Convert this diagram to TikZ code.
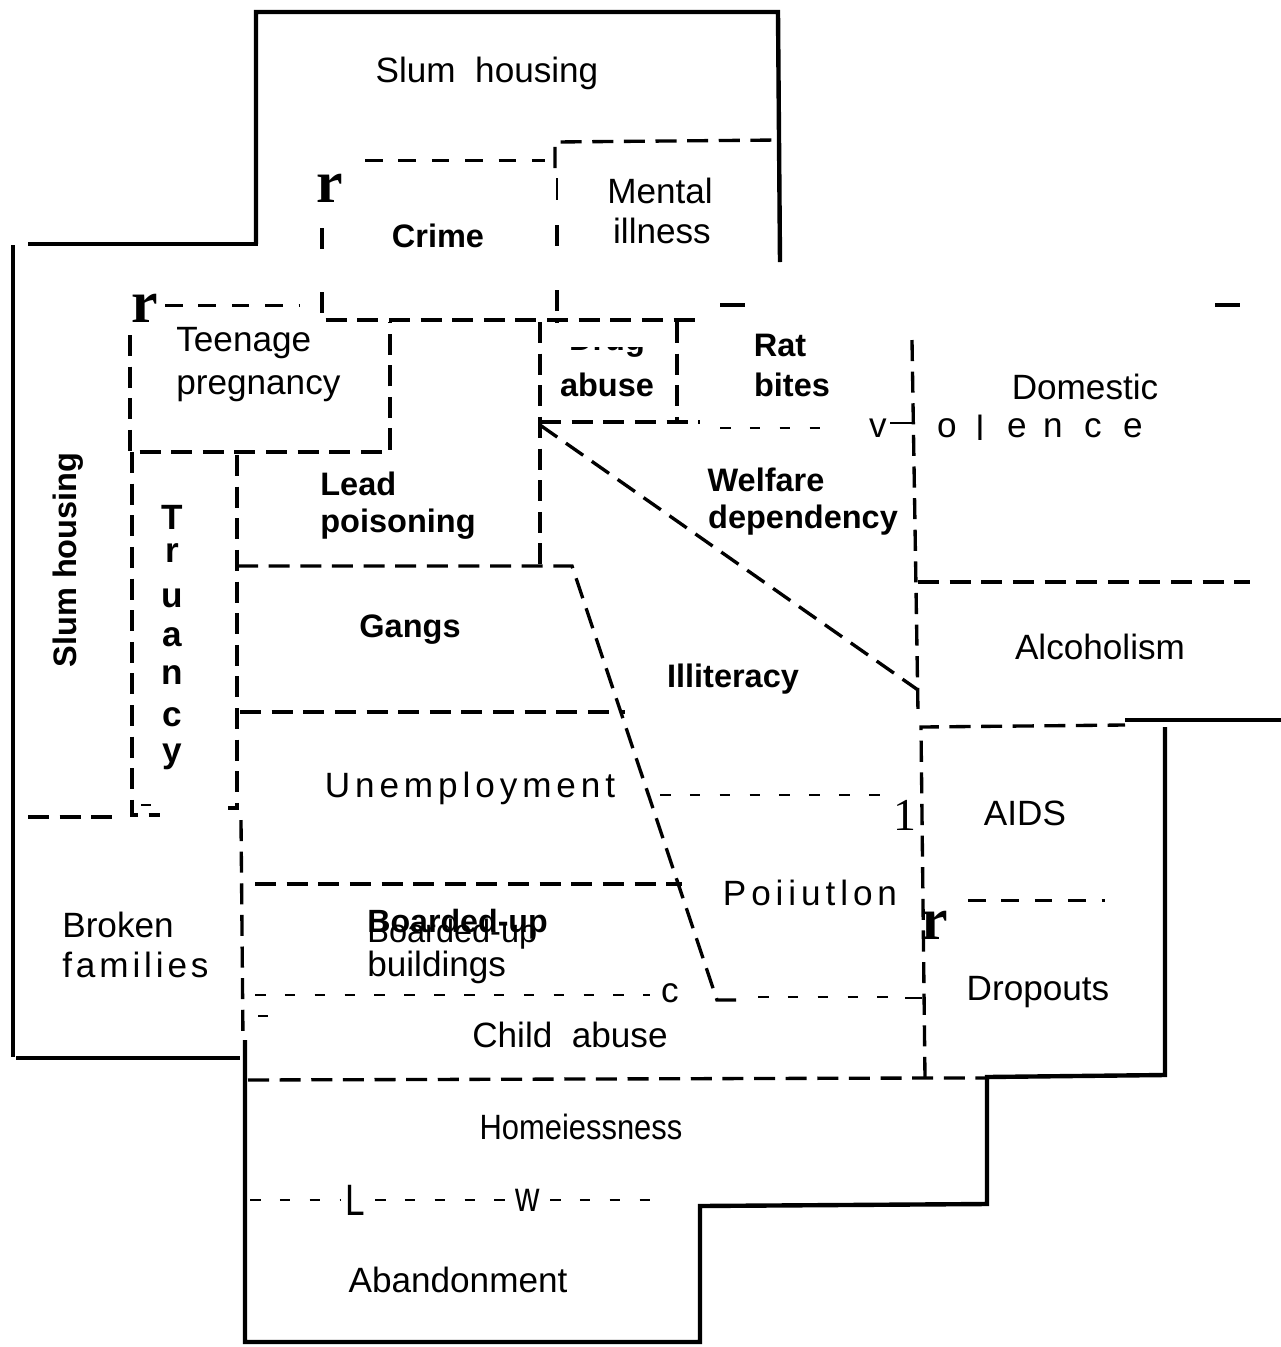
\documentclass[tikz,border=0pt]{standalone}
\usepackage{fontspec}
\setmainfont{Liberation Sans}
\newfontfamily\serifr{Liberation Serif}
\begin{document}
\begin{tikzpicture}[x=0.02cm,y=-0.02cm]
\tikzset{
 solidln/.style={line width=2.5pt, line join=miter},
 heavydash/.style={line width=1.9pt, dash pattern=on 12pt off 6pt},
 meddash/.style={line width=1.7pt, dash pattern=on 10pt off 9pt},
 thindash/.style={line width=1.4pt, dash pattern=on 6pt off 11pt},
 tick/.style={line width=1.5pt},
 reg/.style={inner sep=0pt, font=\fontsize{20}{24}\selectfont},
 bld/.style={inner sep=0pt, font=\fontsize{18.5}{22}\selectfont\bfseries},
 glyphr/.style={inner sep=0pt, font=\fontsize{34}{36}\selectfont\serifr\bfseries},
}
\useasboundingbox (0,0) rectangle (1281,1347);
% solid outline
\draw[solidln] (256,244) -- (256,12) -- (778,12) -- (780,262);
\draw[solidln] (28,244) -- (258,244);
\draw[solidln] (13,245) -- (13,1057);
\draw[solidln] (16,1058) -- (240,1058);
\draw[solidln] (245,1040) -- (245,1342) -- (700,1342) -- (700,1206) -- (987,1204) -- (987,1077) -- (1165,1075) -- (1165,727);
\draw[solidln] (1125,720) -- (1281,720);
% crime / mental illness
\draw[meddash] (365,160) -- (545,160);
\draw[heavydash] (322,228) -- (322,252);
\draw[heavydash] (322,292) -- (322,320) -- (700,320);
\draw[tick] (557,178) -- (557,200);
\draw[heavydash] (557,225) -- (557,252);
\draw[heavydash] (557,290) -- (557,322);
\draw[heavydash] (555,168) -- (555,142) -- (778,140);
\draw[line width=2pt] (720,305) -- (745,305);
\draw[line width=2pt] (1215,305) -- (1240,305);
% teenage pregnancy, truancy
\draw[meddash] (165,305) -- (300,305);
\draw[heavydash] (130,335) -- (130,452) -- (390,452) -- (390,322);
\draw[heavydash] (132,452) -- (132,815) -- (160,815);
\draw[tick] (141,805) -- (151,805);
\draw[heavydash] (237,455) -- (237,808) -- (228,808);
\draw[heavydash] (28,817) -- (120,817);
% drug abuse, rat bites, welfare
\draw[heavydash] (540,322) -- (540,565);
\draw[heavydash] (677,322) -- (677,422);
\draw[heavydash] (540,422) -- (700,422);
\draw[thindash] (720,428) -- (830,428);
\draw[tick] (890,423) -- (912,423);
\draw[heavydash] (912,340) -- (918,712);
\draw[heavydash] (540,425) -- (918,690);
\draw[heavydash] (918,582) -- (1250,582);
\draw[heavydash] (925,1078) -- (921,727) -- (1125,725);
\draw[meddash] (968,900) -- (1105,900);
\draw[thindash] (660,795) -- (895,795);
% gangs, unemployment, boarded-up, child abuse
\draw[heavydash] (237,566) -- (572,566) -- (717,1000) -- (745,1000);
\draw[thindash] (758,997) -- (905,997);
\draw[tick] (905,998) -- (922,998);
\draw[heavydash] (240,712) -- (625,712);
\draw[heavydash] (255,884) -- (682,884);
\draw[thindash] (255,995) -- (650,995);
\draw[heavydash] (241,820) -- (243,1040);
\draw[tick] (258,1016) -- (268,1016);
\draw[heavydash] (248,1080) -- (925,1078) -- (987,1078);
\draw[thindash] (250,1200) -- (340,1200);
\draw[thindash] (375,1200) -- (505,1200);
\draw[thindash] (550,1200) -- (668,1200);
% texts
\node[reg] (slum) at (487,73) {Slum\ \ housing};
\node[reg] (mental) at (660,191) {Mental};
\node[reg] (illness) at (662,231) {illness};
\node[bld] (crime) at (438,236) {Crime};
\node[glyphr] (r1) at (330,188) {r};
\node[glyphr] (r2) at (145,308) {r};
\node[glyphr] (r3) at (935,925) {r};
\node[reg,anchor=west] (teen) at (176,343) {Teenage};
\node[reg,anchor=west] (preg) at (176,389) {pregnancy};
\begin{scope}
\clip (560,347) rectangle (660,365);
\node[bld] (drug) at (607,343) {Drug};
\end{scope}
\node[bld] (abuse) at (607,385) {abuse};
\node[bld] (rat) at (780,345) {Rat};
\node[bld] (bites) at (792,385) {bites};
\node[reg] (domestic) at (1085,387) {Domestic};
\node[reg] (vv) at (878,428) {v};
\foreach \ch/\xx [count=\i] in {o/947,l/980,e/1017,n/1053,c/1093,e/1133}
  \node[reg] (viol\i) at (\xx,428) {\ch};
\node[bld,anchor=west] (lead) at (320,484) {Lead};
\node[bld,anchor=west] (poison) at (320,524) {poisoning};
\node[bld] (welfare) at (766,480) {Welfare};
\node[bld] (depend) at (803,520) {dependency};
\node[bld] (gangs) at (410,630) {Gangs};
\node[bld] (illit) at (733,679) {Illiteracy};
\node[reg] (alco) at (1100,647) {Alcoholism};
\node[reg] (unemp) at (470,788) {\addfontfeature{LetterSpace=14}Unemployment};
\node[reg] (aids) at (1025,813) {AIDS};
\node[inner sep=0pt, font=\fontsize{26}{28}\selectfont\serifr] (one) at (905,815) {1};
\node[reg] (poll) at (810,893) {\addfontfeature{LetterSpace=14}Poiiutlon};
\node[reg,anchor=west] (broken) at (62,925) {Broken};
\node[reg,anchor=west] (fam) at (62,965) {\addfontfeature{LetterSpace=11}families};
\node[bld,anchor=west,font=\fontsize{18.3}{22}\selectfont\bfseries] (boardb) at (367,924) {Boarded-up};
\node[reg,anchor=west,font=\fontsize{18.5}{22}\selectfont] (board) at (367,934) {Boarded-up};
\node[reg,anchor=west] (build) at (367,967) {buildings};
\node[reg] (cc) at (670,993) {c};
\node[reg] (drop) at (1038,992) {Dropouts};
\node[reg] (child) at (570,1035) {Child\ \ abuse};
\node[reg] (homel) at (581,1127) {\scalebox{0.88}[1]{Homeiessness}};
\node[reg,font=\fontsize{25}{28}\selectfont] (ll) at (355,1200) {\scalebox{0.8}[1]{L}};
\node[reg,font=\fontsize{24}{28}\selectfont] (ww) at (528,1200) {\scalebox{0.8}[1]{w}};
\node[reg] (aband) at (458,1280) {Abandonment};
\node[bld,rotate=90] (slumv) at (68,560) {Slum housing};
\foreach \ch/\yy [count=\i] in {T/517,r/553,u/598,a/637,n/675,c/717,y/757}
  \node[bld,font=\fontsize{20}{22}\selectfont\bfseries] (tr\i) at (172,\yy) {\ch};
\end{tikzpicture}
\end{document}
